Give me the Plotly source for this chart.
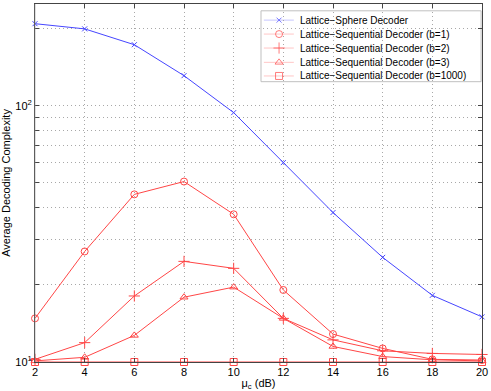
import plotly.graph_objects as go

snr_db = [2, 4, 6, 8, 10, 12, 14, 16, 18, 20]

sphere = [209, 199.5, 173, 131, 94, 60, 38.3, 25.6, 18.2, 15.0]
seq_b1 = [14.8, 27.0, 45.1, 50.6, 37.7, 19.1, 12.85, 11.3, 10.24, 10.18]
seq_b2 = [10.24, 11.9, 18.1, 24.7, 23.2, 14.8, 12.2, 11.06, 10.8, 10.7]
seq_b3 = [10.1, 10.43, 12.7, 17.9, 19.6, 14.8, 11.5, 10.5, 10.2, 10.1]
seq_b1000 = [10.0, 10.0, 10.0, 10.0, 10.0, 10.0, 10.0, 10.0, 10.0, 10.0]

y_tickvals = [10, 20, 30, 40, 50, 60, 70, 80, 90, 100, 200]
y_ticktext = ["10<sup>1</sup>", " ", " ", " ", " ", " ", " ", " ", " ", "10<sup>2</sup>", " "]

_BLUE = "rgb(70,70,255)"
_RED = "rgb(255,70,70)"

series = [
    ("Lattice\u2212Sphere Decoder", sphere, _BLUE, "x-thin-open", 5),
    ("Lattice\u2212Sequential Decoder (b=1)", seq_b1, _RED, "circle-open", 7),
    ("Lattice\u2212Sequential Decoder (b=2)", seq_b2, _RED, "cross-thin-open", 8),
    ("Lattice\u2212Sequential Decoder (b=3)", seq_b3, _RED, "triangle-up-open", 7),
    ("Lattice\u2212Sequential Decoder (b=1000)", seq_b1000, _RED, "square-open", 7),
]

fig = go.Figure()
for name, vals, color, sym, size in series:
    fig.add_trace(go.Scatter(
        x=snr_db,
        y=vals,
        mode="lines+markers",
        name=name,
        line=dict(color=color, width=1),
        marker=dict(symbol=sym, size=size, color=color, line=dict(color=color, width=1)),
        cliponaxis=False,
        showlegend=False,
    ))

axis_common = dict(
    showline=True,
    linecolor="#444",
    linewidth=1,
    mirror="ticks",
    ticks="inside",
    ticklen=4,
    tickcolor="#444",
    showgrid=True,
    gridcolor="#a8a8a8",
    griddash="1px,3px",
    gridwidth=1,
    zeroline=False,
    tickfont=dict(size=11, color="black"),
)

fig.update_xaxes(
    range=[2, 20],
    tickvals=snr_db,
    title=dict(text="\u03bc<sub>c</sub> (dB)", font=dict(size=11, color="black"), standoff=2),
    **axis_common,
)
fig.update_yaxes(
    type="log",
    range=[1, 2.397],
    tickvals=y_tickvals,
    ticktext=y_ticktext,
    title=dict(text="Average Decoding Complexity", font=dict(size=11, color="black"), standoff=4),
    **axis_common,
)

# thicker grey left spine like the original
fig.add_shape(type="line", xref="paper", yref="paper", x0=0, x1=0, y0=0, y1=1,
              line=dict(color="#999", width=2))

# hand-built legend (MATLAB style, tight rows)
leg_x0, leg_x1 = 0.5056, 0.998
leg_y0, leg_y1 = 0.783, 0.981
row_y = [0.955, 0.916, 0.877, 0.837, 0.799]
fig.add_shape(type="rect", xref="paper", yref="paper",
              x0=leg_x0, x1=leg_x1, y0=leg_y0, y1=leg_y1,
              line=dict(color="#333", width=1), fillcolor="white", layer="between")
for (name, vals, color, sym, size), ry in zip(series, row_y):
    fig.add_shape(type="line", xref="paper", yref="paper",
                  x0=0.512, x1=0.579, y0=ry, y1=ry,
                  line=dict(color=color, width=1), layer="between")
    fig.add_annotation(x=0.588, y=ry, xref="paper", yref="paper", text=name,
                       showarrow=False, xanchor="left", yanchor="middle",
                       font=dict(size=10, color="black"))
fig.add_trace(go.Scatter(
    x=[0.546] * len(series),
    y=row_y,
    mode="markers",
    marker=dict(
        symbol=[s[3] for s in series],
        size=[s[4] for s in series],
        color=[s[2] for s in series],
        line=dict(color=[s[2] for s in series], width=1),
    ),
    xaxis="x2", yaxis="y2",
    showlegend=False, hoverinfo="skip",
))

fig.update_layout(
    width=491,
    height=391,
    template="simple_white",
    margin=dict(l=35, r=7, t=3, b=29),
    paper_bgcolor="white",
    plot_bgcolor="white",
    font=dict(family="Liberation Sans, Arial, sans-serif", size=11, color="black"),
    showlegend=False,
    xaxis2=dict(overlaying="x", range=[0, 1], visible=False, fixedrange=True),
    yaxis2=dict(overlaying="y", range=[0, 1], visible=False, fixedrange=True),
)

fig.write_html(
    "out.html",
    config={"displayModeBar": False},
    post_script="document.body.style.margin='0';document.body.style.overflow='hidden';",
)
